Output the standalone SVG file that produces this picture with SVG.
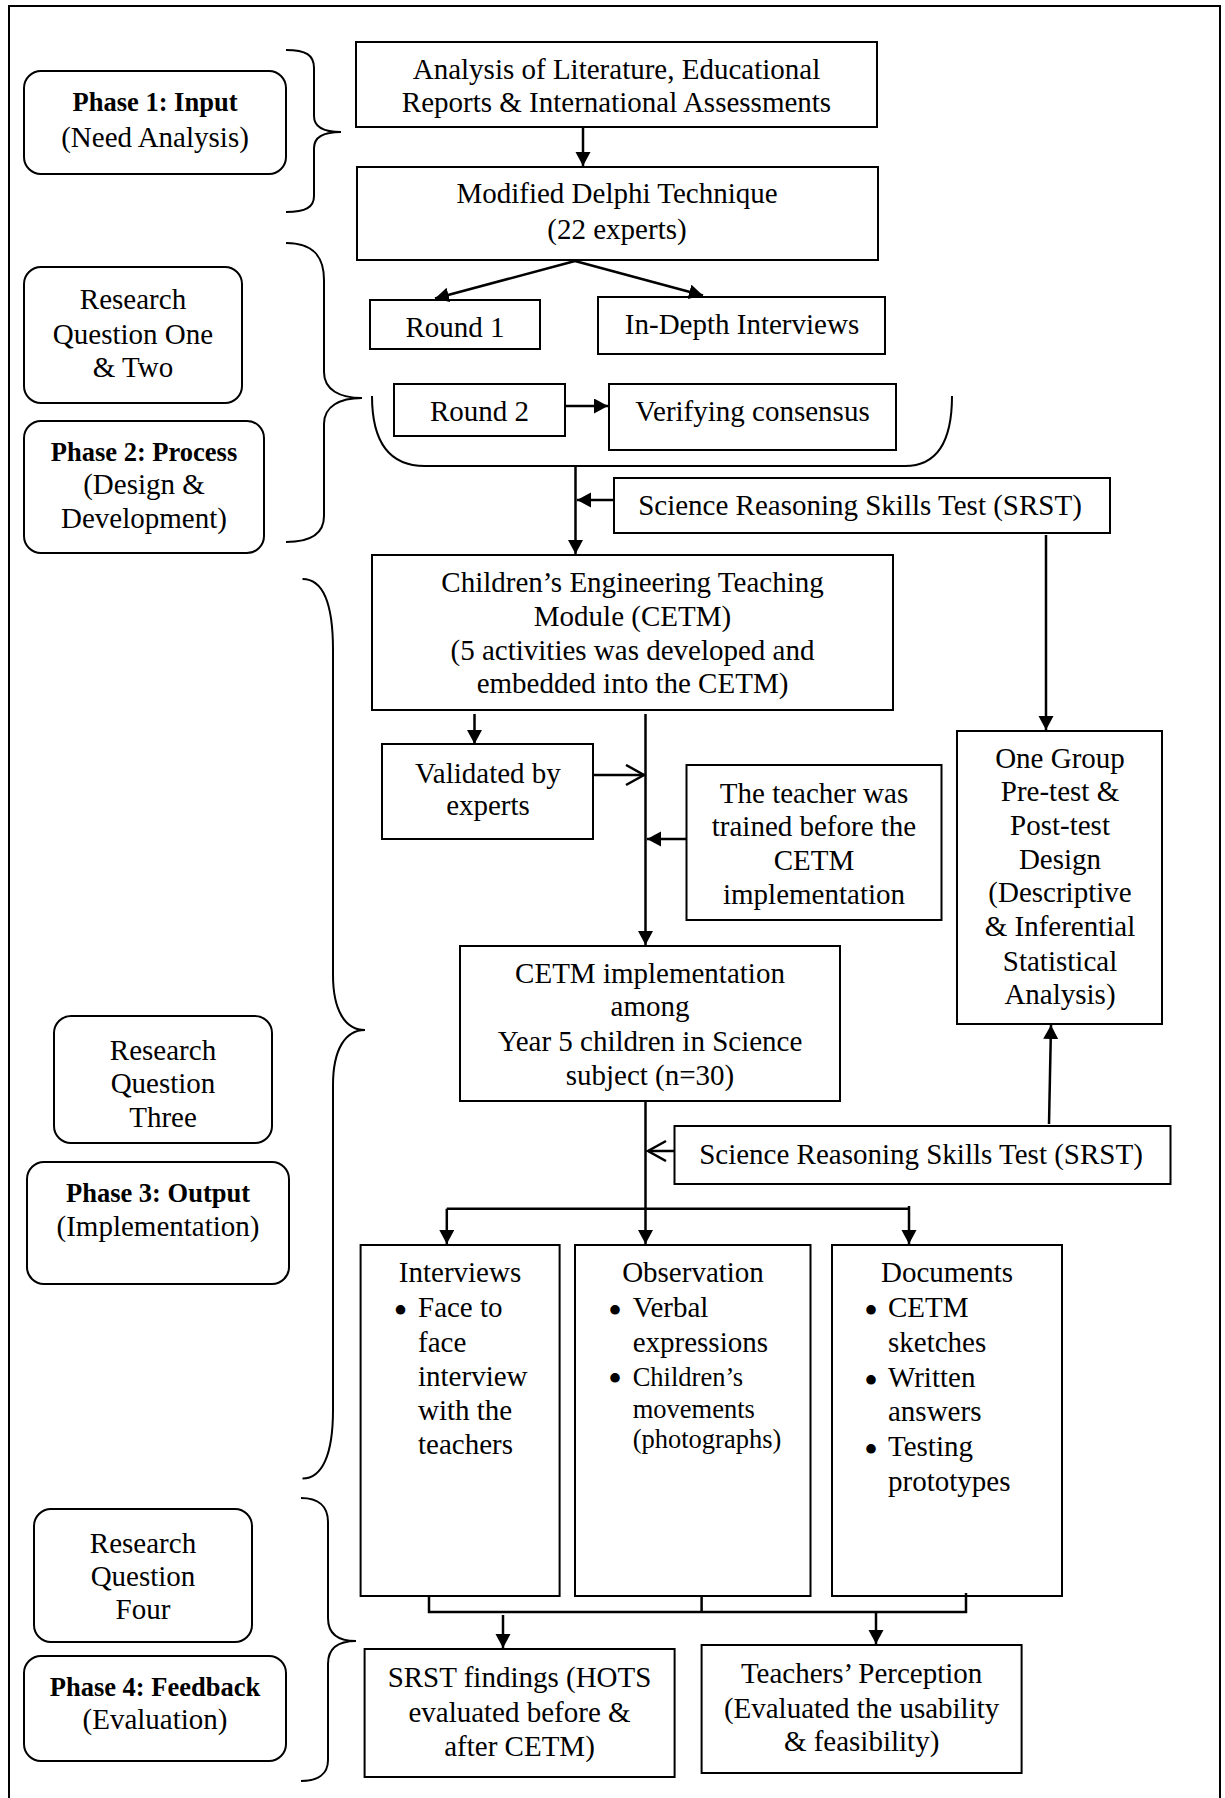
<svg xmlns="http://www.w3.org/2000/svg" width="1225" height="1798" viewBox="0 0 1225 1798">
  <style>
    text { font-family: "Liberation Serif", "Times New Roman", serif; font-size: 29px; fill: #000; }
    .c { text-anchor: middle; }
    .b { font-weight: bold; font-size: 26.5px; }
    .s { font-size: 26.5px; }
    .dot { text-anchor: middle; font-size: 40px; }
    .box { fill: #fff; stroke: #000; stroke-width: 2; }
    .rbox { fill: #fff; stroke: #000; stroke-width: 2; }
    .ln { fill: none; stroke: #000; stroke-width: 2.5; }
    .br { fill: none; stroke: #000; stroke-width: 2; }
  </style>
  <defs>
    <marker id="arr" markerUnits="userSpaceOnUse" markerWidth="16" markerHeight="16" refX="14" refY="7.5" orient="auto">
      <path d="M0,0 L14,7.5 L0,15 z" fill="#000"/>
    </marker>
    <marker id="open" markerUnits="userSpaceOnUse" markerWidth="22" markerHeight="24" refX="19" refY="11" orient="auto">
      <path d="M1,1 L19,11 L1,21" fill="none" stroke="#000" stroke-width="2.5"/>
    </marker>
  </defs>

  <rect width="1225" height="1798" fill="#fff"/>
  <!-- outer frame -->
  <path d="M9 1800 V6 H1220 V1800" fill="none" stroke="#000" stroke-width="2"/>

  <!-- phase and research-question labels -->
  <g id="phase1">
    <rect class="rbox" x="24" y="71" width="262" height="103" rx="17"/>
    <text class="c b" x="155" y="111">Phase 1: Input</text>
    <text class="c" x="155" y="147">(Need Analysis)</text>
  </g>
  <g id="rq12">
    <rect class="rbox" x="24" y="267" width="218" height="136" rx="17"/>
    <text class="c" x="133" y="309">Research</text>
    <text class="c" x="133" y="344">Question One</text>
    <text class="c" x="133" y="377">&amp; Two</text>
  </g>
  <g id="phase2">
    <rect class="rbox" x="24" y="421" width="240" height="132" rx="17"/>
    <text class="c b" x="144" y="461">Phase 2: Process</text>
    <text class="c" x="144" y="494">(Design &amp;</text>
    <text class="c" x="144" y="528">Development)</text>
  </g>
  <g id="rq3">
    <rect class="rbox" x="54" y="1016" width="218" height="127" rx="17"/>
    <text class="c" x="163" y="1060">Research</text>
    <text class="c" x="163" y="1093">Question</text>
    <text class="c" x="163" y="1127">Three</text>
  </g>
  <g id="phase3">
    <rect class="rbox" x="27" y="1162" width="262" height="122" rx="17"/>
    <text class="c b" x="158" y="1202">Phase 3: Output</text>
    <text class="c" x="158" y="1236">(Implementation)</text>
  </g>
  <g id="rq4">
    <rect class="rbox" x="34" y="1509" width="218" height="133" rx="17"/>
    <text class="c" x="143" y="1553">Research</text>
    <text class="c" x="143" y="1586">Question</text>
    <text class="c" x="143" y="1619">Four</text>
  </g>
  <g id="phase4">
    <rect class="rbox" x="24" y="1656" width="262" height="105" rx="17"/>
    <text class="c b" x="155" y="1696">Phase 4: Feedback</text>
    <text class="c" x="155" y="1729">(Evaluation)</text>
  </g>

  <!-- curly braces grouping the phases -->
  <g id="braces">
    <path class="br" d="M286 50 C306 50 314 55 314 68 V116 C314 127 323 132 341 132 C323 132 314 137 314 148 V196 C314 207 306 212 286 212"/>
    <path class="br" d="M286 243 C312 243 324 255 324 280 V372 C324 390 340 398 362 398 C340 398 324 406 324 424 V516 C324 533 312 542 286 542"/>
    <path class="br" d="M302.5 579 C322 579 333 600 333 650 V975 C333 1010 345 1030 365 1030 C345 1030 333 1050 333 1085 V1410 C333 1455 322 1478.6 302.5 1478.6"/>
    <path class="br" d="M301 1498 C318 1498 328 1506 328 1522 V1618 C328 1634 338 1641 356 1641 C338 1641 328 1648 328 1664 V1760 C328 1774 318 1781 301 1781"/>
    <path class="br" d="M372 396 C372 445 392 466 425 466 H905 C935 466 952 445 952 396"/>
  </g>

  <!-- process nodes -->
  <g id="analysis">
    <rect class="box" x="356" y="42" width="521" height="85"/>
    <text class="c" x="616.5" y="78.5">Analysis of Literature, Educational</text>
    <text class="c" x="616.5" y="112">Reports &amp; International Assessments</text>
  </g>
  <g id="delphi">
    <rect class="box" x="357" y="167" width="521" height="93"/>
    <text class="c" x="617" y="203">Modified Delphi Technique</text>
    <text class="c" x="617" y="239">(22 experts)</text>
  </g>
  <g id="round1">
    <rect class="box" x="370" y="300" width="170" height="49"/>
    <text class="c" x="455" y="337">Round 1</text>
  </g>
  <g id="indepth">
    <rect class="box" x="598" y="297" width="287" height="57"/>
    <text class="c" x="742" y="334">In-Depth Interviews</text>
  </g>
  <g id="round2">
    <rect class="box" x="394" y="384" width="171" height="52"/>
    <text class="c" x="479.5" y="421">Round 2</text>
  </g>
  <g id="verifying">
    <rect class="box" x="609" y="384" width="287" height="66"/>
    <text class="c" x="752.5" y="421">Verifying consensus</text>
  </g>
  <g id="srst1">
    <rect class="box" x="614" y="478" width="496" height="55"/>
    <text class="c" x="860" y="515">Science Reasoning Skills Test (SRST)</text>
  </g>
  <g id="cetm">
    <rect class="box" x="372" y="555" width="521" height="155"/>
    <text class="c" x="632.5" y="591.5">Children’s Engineering Teaching</text>
    <text class="c" x="632.5" y="626">Module (CETM)</text>
    <text class="c" x="632.5" y="660">(5 activities was developed and</text>
    <text class="c" x="632.5" y="693">embedded into the CETM)</text>
  </g>
  <g id="validated">
    <rect class="box" x="382" y="744" width="211" height="95"/>
    <text class="c" x="488" y="783">Validated by</text>
    <text class="c" x="488" y="815">experts</text>
  </g>
  <g id="teacher">
    <rect class="box" x="686.5" y="765" width="255" height="155"/>
    <text class="c" x="814" y="803">The teacher was</text>
    <text class="c" x="814" y="836">trained before the</text>
    <text class="c" x="814" y="870">CETM</text>
    <text class="c" x="814" y="903.6">implementation</text>
  </g>
  <g id="implementation">
    <rect class="box" x="460" y="946" width="380" height="155"/>
    <text class="c" x="650" y="983">CETM implementation</text>
    <text class="c" x="650" y="1016">among</text>
    <text class="c" x="650" y="1051">Year 5 children in Science</text>
    <text class="c" x="650" y="1085">subject (n=30)</text>
  </g>
  <g id="onegroup">
    <rect class="box" x="957" y="731" width="205" height="293"/>
    <text class="c" x="1060" y="768">One Group</text>
    <text class="c" x="1060" y="801">Pre-test &amp;</text>
    <text class="c" x="1060" y="835">Post-test</text>
    <text class="c" x="1060" y="869">Design</text>
    <text class="c" x="1060" y="902">(Descriptive</text>
    <text class="c" x="1060" y="936">&amp; Inferential</text>
    <text class="c" x="1060" y="971">Statistical</text>
    <text class="c" x="1060" y="1004">Analysis)</text>
  </g>
  <g id="srst2">
    <rect class="box" x="674.5" y="1126" width="496" height="58"/>
    <text class="c" x="921" y="1163.5">Science Reasoning Skills Test (SRST)</text>
  </g>
  <g id="interviews">
    <rect class="box" x="360.6" y="1245" width="199" height="351"/>
    <text class="c" x="460" y="1282">Interviews</text>
    <text class="dot" x="400.5" y="1323.5">•</text>
    <text x="418" y="1317">Face to</text>
    <text x="418" y="1352">face</text>
    <text x="418" y="1386">interview</text>
    <text x="418" y="1420">with the</text>
    <text x="418" y="1454">teachers</text>
  </g>
  <g id="observation">
    <rect class="box" x="575" y="1245" width="235.5" height="351"/>
    <text class="c" x="693" y="1282">Observation</text>
    <text class="dot" x="615" y="1323.5">•</text>
    <text x="632.7" y="1317">Verbal</text>
    <text x="632.7" y="1352">expressions</text>
    <text class="dot" x="615" y="1391.5">•</text>
    <text class="s" x="632.7" y="1386">Children’s</text>
    <text class="s" x="632.7" y="1418">movements</text>
    <text class="s" x="632.7" y="1448">(photographs)</text>
  </g>
  <g id="documents">
    <rect class="box" x="832" y="1245" width="230" height="351"/>
    <text class="c" x="947" y="1282">Documents</text>
    <text class="dot" x="871" y="1323.5">•</text>
    <text x="888" y="1317">CETM</text>
    <text x="888" y="1352">sketches</text>
    <text class="dot" x="871" y="1393.5">•</text>
    <text x="888" y="1387">Written</text>
    <text x="888" y="1421">answers</text>
    <text class="dot" x="871" y="1463">•</text>
    <text x="888" y="1456">Testing</text>
    <text x="888" y="1491">prototypes</text>
  </g>
  <g id="srstfindings">
    <rect class="box" x="364.6" y="1649" width="310" height="128"/>
    <text class="c" x="519.5" y="1687">SRST findings (HOTS</text>
    <text class="c" x="519.5" y="1722">evaluated before &amp;</text>
    <text class="c" x="519.5" y="1755.5">after CETM)</text>
  </g>
  <g id="perception">
    <rect class="box" x="701.6" y="1645" width="320" height="128"/>
    <text class="c" x="861.6" y="1683">Teachers’ Perception</text>
    <text class="c" x="861.6" y="1718">(Evaluated the usability</text>
    <text class="c" x="861.6" y="1751">&amp; feasibility)</text>
  </g>

  <!-- connectors -->
  <g id="connectors">
    <path class="ln" d="M583 127 V166" marker-end="url(#arr)"/>
    <path class="ln" d="M575 261 L435 298.5" marker-end="url(#arr)"/>
    <path class="ln" d="M575 261 L703 295.5" marker-end="url(#arr)"/>
    <path class="ln" d="M565 406 H608" marker-end="url(#arr)"/>
    <path class="ln" d="M575.5 466 V554" marker-end="url(#arr)"/>
    <path class="ln" d="M614 500 H577" marker-end="url(#arr)"/>
    <path class="ln" d="M1046 535 V730" marker-end="url(#arr)"/>
    <path class="ln" d="M474.5 714 V744" marker-end="url(#arr)"/>
    <path class="ln" d="M645.5 714 V945" marker-end="url(#arr)"/>
    <path class="ln" d="M593 775 H644" marker-end="url(#open)"/>
    <path class="ln" d="M686.5 839 H647" marker-end="url(#arr)"/>
    <path class="ln" d="M645.5 1101 V1244" marker-end="url(#arr)"/>
    <path class="ln" d="M674.5 1151 H648" marker-end="url(#open)"/>
    <path class="ln" d="M1049 1124 L1051 1025" marker-end="url(#arr)"/>
    <path class="ln" d="M446.8 1208.7 H909"/>
    <path class="ln" d="M446.8 1208.7 V1244" marker-end="url(#arr)"/>
    <path class="ln" d="M909 1206 V1244" marker-end="url(#arr)"/>
    <path class="ln" d="M429 1596 V1612 H966 V1593"/>
    <path class="ln" d="M701.6 1596 V1612"/>
    <path class="ln" d="M503 1615 V1648" marker-end="url(#arr)"/>
    <path class="ln" d="M876 1612 V1644" marker-end="url(#arr)"/>
  </g>
</svg>
